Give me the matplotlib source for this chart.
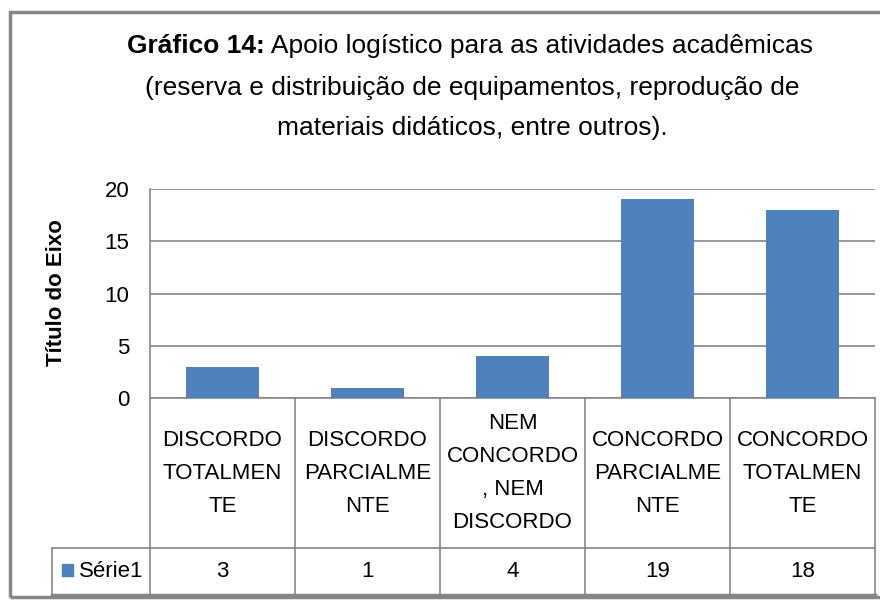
import matplotlib.pyplot as plt
from matplotlib.patches import Rectangle

categories = [
    'DISCORDO\nTOTALMEN\nTE',
    'DISCORDO\nPARCIALME\nNTE',
    'NEM\nCONCORDO\n, NEM\nDISCORDO',
    'CONCORDO\nPARCIALME\nNTE',
    'CONCORDO\nTOTALMEN\nTE',
]
values = [3, 1, 4, 19, 18]
series_name = 'Série1'
y_ticks = [0, 5, 10, 15, 20]
title_bold = 'Gráfico 14:'
title_rest = ' Apoio logístico para as atividades acadêmicas'
title_lines = [
    '(reserva e distribuição de equipamentos, reprodução de',
    'materiais didáticos, entre outros).',
]
y_title = 'Título do Eixo'

BAR = '#4F81BD'
GRID = '#868686'
FONT = ['Liberation Sans Narrow', 'DejaVu Sans Condensed', 'Liberation Sans', 'DejaVu Sans']
W, H = 880, 600

plt.rcParams['font.family'] = FONT


def fx(x):
    return x / W


def fy(y):
    return 1 - y / H


fig = plt.figure(figsize=(W / 100, H / 100), dpi=100)

# chart frame
fig.patches.append(Rectangle((fx(10), fy(597)), fx(900) - fx(10), fy(12) - fy(597),
                             transform=fig.transFigure, fill=False,
                             edgecolor=GRID, lw=2.5))

# plot area
left, right, top, bottom = 150, 875, 189, 398
ax = fig.add_axes([fx(left), fy(bottom), fx(right - left), (bottom - top) / H])
x = list(range(len(values)))
ax.bar(x, values, width=0.5, color=BAR, zorder=3)
ax.set_xlim(-0.5, len(values) - 0.5)
ax.set_ylim(0, 20)
ax.set_yticks(y_ticks)
ax.set_xticks([])
ax.tick_params(axis='y', length=0, pad=15, labelsize=16)
ax.yaxis.grid(True, color=GRID, lw=1.2)
for s in ['top', 'right']:
    ax.spines[s].set_visible(False)
for s in ['left', 'bottom']:
    ax.spines[s].set_color(GRID)
    ax.spines[s].set_linewidth(1.2)

fig.text(fx(57), fy(293), y_title, rotation=90, ha='center', va='center',
         fontsize=16, fontweight='bold')

# data table below the plot
tab_left, tab_bottom = 52, 595
col_w = (right - left) / len(values)
tab = fig.add_axes([fx(tab_left), fy(tab_bottom), fx(right - tab_left),
                    (tab_bottom - bottom) / H])
tab.set_xlim(-0.5 - (left - tab_left) / col_w, len(values) - 0.5)
tab.set_ylim(tab_bottom, bottom)
tab.axis('off')
row_split = 548
x0 = tab.get_xlim()[0]
lw = 1.2
for i in range(len(values) + 1):
    tab.plot([i - 0.5, i - 0.5], [bottom, tab_bottom], color=GRID, lw=lw, clip_on=False)
tab.plot([x0, x0], [row_split, tab_bottom], color=GRID, lw=lw, clip_on=False)
tab.plot([x0, len(values) - 0.5], [row_split, row_split], color=GRID, lw=lw, clip_on=False)
tab.plot([x0, len(values) - 0.5], [tab_bottom, tab_bottom], color=GRID, lw=2.5, clip_on=False)

for i, (cat, v) in enumerate(zip(categories, values)):
    tab.text(i, (bottom + row_split) / 2, cat, ha='center', va='center',
             fontsize=16, linespacing=1.75)
    tab.text(i, (row_split + tab_bottom) / 2, str(v), ha='center', va='center',
             fontsize=16)

tab.add_patch(Rectangle((x0 + 10 / col_w, 564), 11 / col_w, 12, color=BAR,
                        clip_on=False))
tab.text(x0 + 27 / col_w, (row_split + tab_bottom) / 2, series_name,
         ha='left', va='center', fontsize=16)

# title with bold prefix
renderer = fig.canvas.get_renderer()
t1 = fig.text(0, fy(46), title_bold, fontsize=19, fontweight='bold', va='center')
t2 = fig.text(0, fy(46), title_rest, fontsize=19, va='center')
w1 = t1.get_window_extent(renderer).width
w2 = t2.get_window_extent(renderer).width
start = 470 - (w1 + w2) / 2
t1.set_x(fx(start))
t2.set_x(fx(start + w1))
for k, line in enumerate(title_lines):
    fig.text(fx(472), fy(88 + 40 * k), line, ha='center', va='center', fontsize=19)

fig.savefig('out.png', dpi=100)
